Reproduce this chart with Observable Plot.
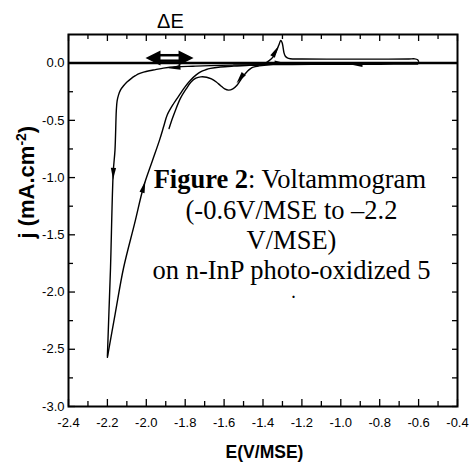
<!DOCTYPE html>
<html>
<head>
<meta charset="utf-8">
<script src="https://cdn.jsdelivr.net/npm/d3@7"></script>
<script src="https://cdn.jsdelivr.net/npm/@observablehq/plot@0.6"></script>
<style>
  html, body { margin: 0; padding: 0; background: #fff; }
  #chart svg { display: block; }
</style>
</head>
<body>
<div id="chart"></div>
<script>
// ---------- data ----------
// cathodic scan from -0.6 V down to -2.2 V (outer curve)
const cathodicE = [-0.605, -0.70, -0.80, -0.95, -1.10, -1.25, -1.413, -1.55, -1.67, -1.76, -1.841, -1.912, -1.953, -1.985, -2.014, -2.04, -2.056, -2.078, -2.098, -2.118, -2.133, -2.143, -2.150, -2.154, -2.161, -2.170, -2.184, -2.192, -2.200];
const cathodicJ = [-0.009, -0.009, -0.010, -0.010, -0.011, -0.012, -0.013, -0.017, -0.022, -0.027, -0.032, -0.044, -0.057, -0.067, -0.079, -0.094, -0.110, -0.135, -0.163, -0.200, -0.236, -0.280, -0.330, -0.410, -0.760, -0.953, -1.790, -2.170, -2.560];

// anodic return scan from -2.2 V back to -0.6 V
const anodicE = [-2.200, -2.160, -2.117, -2.060, -2.014, -1.970, -1.932, -1.910, -1.893, -1.860, -1.824, -1.800, -1.773, -1.745, -1.721, -1.695, -1.670, -1.620, -1.550, -1.470, -1.400, -1.370, -1.350, -1.335, -1.325, -1.316, -1.309, -1.302, -1.297, -1.292, -1.285, -1.275, -1.260, -1.200, -1.000, -0.800, -0.650, -0.620, -0.605, -0.600];
const anodicJ = [-2.570, -2.190, -1.790, -1.400, -1.080, -0.860, -0.673, -0.550, -0.455, -0.355, -0.265, -0.205, -0.149, -0.105, -0.076, -0.058, -0.046, -0.034, -0.026, -0.020, -0.012, 0.020, 0.050, 0.090, 0.130, 0.170, 0.198, 0.180, 0.140, 0.090, 0.060, 0.045, 0.038, 0.036, 0.035, 0.035, 0.036, 0.037, 0.030, 0.015];

// curve with the reduction wave near -1.57 V
const waveE = [-1.300, -1.360, -1.420, -1.450, -1.464, -1.480, -1.500, -1.516, -1.535, -1.555, -1.577, -1.597, -1.619, -1.640, -1.665, -1.690, -1.720, -1.745, -1.770, -1.795, -1.824, -1.850, -1.865, -1.883];
const waveJ = [-0.006, -0.012, -0.024, -0.035, -0.048, -0.070, -0.110, -0.150, -0.195, -0.225, -0.236, -0.225, -0.195, -0.165, -0.138, -0.123, -0.120, -0.132, -0.165, -0.225, -0.306, -0.411, -0.480, -0.571];

// scan-direction arrowheads (tip position, direction in degrees clockwise from up)
const arrowE     = [-0.950, -1.886, -2.171, -2.005, -1.536, -1.320];
const arrowJ     = [-0.012, -0.045, -1.020, -1.030, -0.175,  0.149];
const arrowAngle = [   -90,    -95,    182,     16,    217,     30];
const smallArrowE = [-1.300], smallArrowJ = [0.006], smallArrowAngle = [90];

// ΔE double arrow
const deltaTipsE = [-2.004, -1.757];
const deltaTipsAngle = [-90, 90];
const deltaShaftE = [-1.935, -1.828];
const deltaJ = 0.045;

// axes
const xTicks = [-2.4, -2.2, -2.0, -1.8, -1.6, -1.4, -1.2, -1.0, -0.8, -0.6, -0.4];
const xMinorTicks = [-2.3, -2.1, -1.9, -1.7, -1.5, -1.3, -1.1, -0.9, -0.7, -0.5];
const yTicks = [0.0, -0.5, -1.0, -1.5, -2.0, -2.5, -3.0];
const yMinorTicks = [-0.25, -0.75, -1.25, -1.75, -2.25, -2.75];

// texts
const xTitle = "E(V/MSE)";
const yTitle = "j (mA.cm-2)";
const deltaLabel = "ΔE";
const noteBold = "Figure 2";
const noteLines = [": Voltammogram", "(-0.6V/MSE to \u20132.2", "V/MSE)", "on n-InP photo-oxidized 5"];
const noteDot = ".";

// ---------- build ----------
const toRows = (E, J, extra = {}) => E.map((e, i) => Object.assign({E: e, j: J[i]}, Object.fromEntries(Object.entries(extra).map(([k, v]) => [k, v[i]]))));
const cathodic = toRows(cathodicE, cathodicJ);
const anodic = toRows(anodicE, anodicJ);
const wave = toRows(waveE, waveJ);
const arrows = toRows(arrowE, arrowJ, {angle: arrowAngle});
const smallArrows = toRows(smallArrowE, smallArrowJ, {angle: smallArrowAngle});
const deltaTips = deltaTipsE.map((e, i) => ({E: e, j: deltaJ, angle: deltaTipsAngle[i]}));

// arrowhead symbol with its tip at the origin, pointing up
const head = (kL, kW) => ({
  draw(ctx, size) {
    const r = Math.sqrt(size / Math.PI);
    const L = kL * r, w = kW * r;
    ctx.moveTo(0, 0);
    ctx.lineTo(w / 2, L);
    ctx.lineTo(-w / 2, L);
    ctx.closePath();
  }
});

const W = 469, H = 463, mL = 68, mR = 12, mT = 34, mB = 57;
const fw = W - mL - mR, fh = H - mT - mB;
const major = 7, minor = 5;
const sans = "'Liberation Sans', Arial, sans-serif";
const serif = "'Liberation Serif', 'Times New Roman', serif";
const fmt = d => d.toFixed(1);

const noteX = -1.2535, splitX = -1.4766;
const noteY = [-1.0927, -1.3593, -1.6259, -1.8838];
const dotX = -1.2432, dotY = -2.052;

const chart = Plot.plot({
  width: W, height: H,
  marginLeft: mL, marginRight: mR, marginTop: mT, marginBottom: mB,
  style: {fontFamily: sans, background: "#fff", color: "#000"},
  x: {domain: [-2.4, -0.4], axis: null},
  y: {domain: [-3.0, 0.25], axis: null},
  marks: [
    // axis labels
    Plot.axisX(xTicks, {anchor: "bottom", tickSize: 0, tickPadding: 11, tickFormat: fmt, fontSize: 13, label: null}),
    Plot.axisY(yTicks, {anchor: "left", tickSize: 0, tickPadding: 4, tickFormat: fmt, fontSize: 13, label: null}),
    // inward ticks, all four sides
    Plot.tickX(xTicks, {x: d => d, insetTop: fh - major, strokeWidth: 1.3}),
    Plot.tickX(xMinorTicks, {x: d => d, insetTop: fh - minor, strokeWidth: 1.3}),
    Plot.tickX(xTicks, {x: d => d, insetBottom: fh - major, strokeWidth: 1.3}),
    Plot.tickX(xMinorTicks, {x: d => d, insetBottom: fh - minor, strokeWidth: 1.3}),
    Plot.tickY(yTicks, {y: d => d, insetRight: fw - major, strokeWidth: 1.3}),
    Plot.tickY(yMinorTicks, {y: d => d, insetRight: fw - minor, strokeWidth: 1.3}),
    Plot.tickY(yTicks, {y: d => d, insetLeft: fw - minor, strokeWidth: 1.3}),
    Plot.tickY(yMinorTicks, {y: d => d, insetLeft: fw - minor, strokeWidth: 1.3}),
    Plot.frame({stroke: "#000", strokeWidth: 2}),
    // zero line
    Plot.ruleY([0], {stroke: "#000", strokeWidth: 2.5}),
    // curves
    Plot.line(cathodic, {x: "E", y: "j", stroke: "#000", strokeWidth: 1.4, curve: "catmull-rom"}),
    Plot.line(anodic, {x: "E", y: "j", stroke: "#000", strokeWidth: 1.4, curve: "catmull-rom"}),
    Plot.line(wave, {x: "E", y: "j", stroke: "#000", strokeWidth: 1.4, curve: "catmull-rom"}),
    // direction arrowheads
    Plot.dot(arrows, {x: "E", y: "j", rotate: "angle", r: 4, symbol: head(3, 1.3), fill: "#000", stroke: "none"}),
    Plot.dot(smallArrows, {x: "E", y: "j", rotate: "angle", r: 2.6, symbol: head(3, 1.5), fill: "#000", stroke: "none"}),
    // ΔE double arrow
    Plot.link([{}], {x1: () => deltaShaftE[0], x2: () => deltaShaftE[1], y1: () => deltaJ, y2: () => deltaJ, stroke: "#000", strokeWidth: 8}),
    Plot.link([{}], {x1: () => deltaShaftE[0], x2: () => deltaShaftE[1], y1: () => deltaJ, y2: () => deltaJ, stroke: "#fff", strokeWidth: 3}),
    Plot.dot(deltaTips, {x: "E", y: "j", rotate: "angle", r: 5, symbol: head(3, 3), fill: "#000", stroke: "none"}),
    Plot.text([deltaLabel], {x: () => -1.876, y: () => 0.305, text: d => d, fontSize: 20, lineAnchor: "bottom", textAnchor: "middle", fill: "#000"}),
    // caption inside the plot
    Plot.text([noteBold], {x: () => splitX, y: () => noteY[0], text: d => d, fontFamily: serif, fontWeight: "bold", fontSize: 26.5, textAnchor: "end", lineAnchor: "bottom", fill: "#000"}),
    Plot.text([noteLines[0]], {x: () => splitX, y: () => noteY[0], text: d => d, fontFamily: serif, fontSize: 26.5, textAnchor: "start", lineAnchor: "bottom", fill: "#000"}),
    Plot.text(noteLines.slice(1), {x: () => noteX, y: (d, i) => noteY[i + 1], text: d => d, fontFamily: serif, fontSize: 26.5, textAnchor: "middle", lineAnchor: "bottom", fill: "#000"}),
    Plot.text([noteDot], {x: () => dotX, y: () => dotY, text: d => d, fontFamily: serif, fontWeight: "bold", fontSize: 14, textAnchor: "middle", lineAnchor: "bottom", fill: "#000"}),
    // axis titles
    Plot.text([xTitle], {frameAnchor: "bottom", dx: 1.5, dy: 51, text: d => d, fontWeight: "bold", fontSize: 17.5, lineAnchor: "bottom", fill: "#000"}),
    Plot.text([yTitle], {frameAnchor: "left", dx: -35, dy: 18, rotate: -90, text: d => d, fontWeight: "bold", fontSize: 22, lineAnchor: "bottom", fill: "#000", className: "ytitle"})
  ]
});

// superscript "-2" in the y title
d3.select(chart).selectAll(".ytitle text").each(function () {
  const t = d3.select(this);
  const s = t.text();
  const m = s.match(/^(.*cm)(-2)(\).*)$/);
  if (!m) return;
  t.text(null);
  t.append("tspan").text(m[1]);
  t.append("tspan").attr("dy", -8).attr("font-size", 14).text(m[2]);
  t.append("tspan").attr("dy", 8).text(m[3]);
});

document.getElementById("chart").appendChild(chart);
</script>
</body>
</html>
